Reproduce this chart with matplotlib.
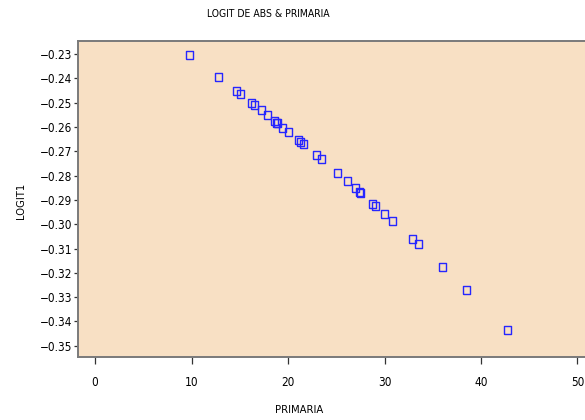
import matplotlib
matplotlib.use("Agg")
import matplotlib.pyplot as plt
from matplotlib.ticker import FixedLocator, FuncFormatter

plt.rcParams["font.family"] = ["DejaVu Sans"]
plt.rcParams["font.stretch"] = "condensed"

title = "LOGIT DE ABS & PRIMARIA"
x_label = "PRIMARIA"
y_label = "LOGIT1"

primaria = [9.72, 12.74, 14.62, 15.03, 16.21, 16.49, 17.19, 17.81, 18.57, 18.78,
            18.85, 19.41, 20.03, 21.00, 21.28, 21.60, 22.88, 23.37, 25.10, 26.08,
            26.98, 27.40, 27.50, 28.72, 28.99, 29.97, 30.80, 32.89, 33.51, 36.00,
            38.44, 42.74]
logit1 = [-0.2303, -0.2393, -0.2451, -0.2465, -0.2500, -0.2509, -0.2530, -0.2551,
          -0.2576, -0.2583, -0.2585, -0.2603, -0.2622, -0.2653, -0.2662, -0.2671,
          -0.2717, -0.2733, -0.2790, -0.2822, -0.2852, -0.2869, -0.2873, -0.2916,
          -0.2924, -0.2959, -0.2988, -0.3061, -0.3082, -0.3175, -0.3270, -0.3433]

x_ticks = [0, 10, 20, 30, 40, 50]
y_ticks = [-0.23, -0.24, -0.25, -0.26, -0.27, -0.28, -0.29, -0.30,
           -0.31, -0.32, -0.33, -0.34, -0.35]

fig = plt.figure(figsize=(5.85, 4.2), dpi=100)
ax = fig.add_axes([78 / 585, 1 - 357 / 420, 1 - 78 / 585 + 0.002, (357 - 41) / 420])
ax.set_facecolor("#F8E0C4")

# slightly tall open rectangles
rect = [(-0.42, -0.5), (0.42, -0.5), (0.42, 0.5), (-0.42, 0.5), (-0.42, -0.5)]
ax.plot(primaria, logit1, linestyle="none", marker=rect, markersize=6,
        markerfacecolor="none", markeredgecolor="#2626ff", markeredgewidth=1.0)

ax.set_xlim(-1.77, 50.9)
ax.set_ylim(-0.3546, -0.2247)
ax.xaxis.set_major_locator(FixedLocator(x_ticks))
ax.yaxis.set_major_locator(FixedLocator(y_ticks))
ax.yaxis.set_major_formatter(FuncFormatter(lambda v, p: ("\u2212" + f"{abs(v):.2f}")))
ax.xaxis.set_major_formatter(FuncFormatter(lambda v, p: f"{v:.0f}"))

for side in ("left", "bottom", "top"):
    ax.spines[side].set_color("#7a7a7a")
    ax.spines[side].set_linewidth(1.4)
ax.spines["right"].set_visible(False)

ax.tick_params(axis="x", direction="out", length=5, width=0.9, color="#333333",
               labelsize=8.5, pad=9)
ax.tick_params(axis="y", direction="out", length=3, width=0.9, color="#333333",
               labelsize=8.5, pad=1)

fig.text(268 / 585, 1 - 14 / 420, title, ha="center", va="center", fontsize=7.5)
fig.text(299 / 585, 1 - 410 / 420, x_label, ha="center", va="center", fontsize=8)
fig.text(21 / 585, 1 - 201 / 420, y_label, ha="center", va="center", fontsize=8,
         rotation=90)

fig.savefig("out.png", dpi=100)
